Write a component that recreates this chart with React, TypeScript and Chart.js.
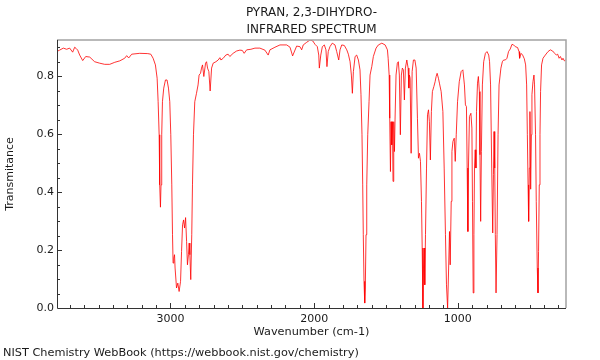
import { useEffect, useRef } from 'react';
import { Chart, registerables } from 'chart.js';

Chart.register(...registerables);

const titleLines = ['PYRAN, 2,3-DIHYDRO-', 'INFRARED SPECTRUM'];
const xAxisTitle = 'Wavenumber (cm-1)';
const yAxisTitle = 'Transmitance';
const footerText = 'NIST Chemistry WebBook (https://webbook.nist.gov/chemistry)';
const xTickValues = [1000, 2000, 3000];
const yTickValues = [0, 0.2, 0.4, 0.6, 0.8];
const xRange = [247, 3790];
const yRange = [0, 0.925];

const wavenumbers = [
  3792, 3772, 3746, 3723, 3702, 3681, 3667, 3657, 3646, 3632,
  3611, 3590, 3562, 3528, 3493, 3458, 3423, 3388, 3353, 3319,
  3305, 3291, 3270, 3214, 3158, 3137, 3121, 3105, 3093, 3086,
  3079, 3075, 3070, 3066, 3061, 3056, 3047, 3035, 3024, 3014,
  3005, 2998, 2991, 2986, 2982, 2977, 2972, 2968, 2958, 2949,
  2940, 2930, 2923, 2916, 2909, 2902, 2895, 2888, 2882, 2875,
  2870, 2865, 2859, 2852, 2847, 2840, 2831, 2819, 2808, 2801,
  2791, 2784, 2777, 2768, 2756, 2749, 2742, 2733, 2724, 2714,
  2703, 2684, 2668, 2656, 2649, 2633, 2615, 2599, 2587, 2564,
  2540, 2517, 2500, 2487, 2470, 2440, 2412, 2378, 2343, 2320,
  2308, 2273, 2238, 2191, 2168, 2150, 2122, 2099, 2087, 2076,
  2052, 2029, 2010, 1994, 1978, 1968, 1964, 1954, 1943, 1929,
  1918, 1911, 1902, 1890, 1874, 1855, 1843, 1829, 1820, 1808,
  1790, 1773, 1762, 1750, 1741, 1734, 1727, 1715, 1704, 1692,
  1681, 1674, 1667, 1662, 1658, 1653, 1648, 1644, 1639, 1634,
  1627, 1618, 1611, 1599, 1588, 1569, 1553, 1529, 1506, 1490,
  1485, 1478, 1474, 1469, 1465, 1460, 1455, 1451, 1446, 1441,
  1437, 1430, 1421, 1414, 1407, 1400, 1393, 1386, 1379, 1372,
  1365, 1355, 1346, 1341, 1337, 1332, 1325, 1318, 1309, 1299,
  1290, 1281, 1274, 1267, 1260, 1253, 1248, 1243, 1239, 1234,
  1230, 1225, 1218, 1211, 1204, 1198, 1191, 1184, 1177, 1167,
  1158, 1151, 1144, 1135, 1128, 1116, 1104, 1095, 1086, 1079,
  1071, 1064, 1058, 1053, 1046, 1041, 1034, 1025, 1018, 1011,
  1002, 990, 977, 965, 954, 947, 940, 935, 930, 926,
  919, 909, 902, 898, 893, 888, 884, 879, 874, 870,
  863, 857, 850, 846, 841, 836, 829, 820, 808, 797,
  785, 779, 772, 764, 757, 752, 748, 743, 739, 734,
  727, 720, 713, 700, 690, 681, 669, 658, 647, 635,
  623, 612, 600, 584, 574, 570, 560, 549, 537, 528,
  521, 516, 511, 507, 502, 498, 493, 488, 484, 477,
  470, 466, 459, 454, 447, 442, 438, 433, 428, 424,
  417, 407, 391, 372, 356, 340, 326, 314, 305, 295,
  286, 275, 268, 258, 250,
];

const transmittance = [
  0.885, 0.890, 0.897, 0.893, 0.897, 0.883, 0.900, 0.896, 0.890, 0.873,
  0.854, 0.868, 0.866, 0.850, 0.845, 0.841, 0.841, 0.848, 0.853, 0.862,
  0.871, 0.863, 0.876, 0.879, 0.878, 0.876, 0.862, 0.839, 0.793, 0.712,
  0.598, 0.425, 0.348, 0.425, 0.598, 0.712, 0.759, 0.787, 0.787, 0.759,
  0.712, 0.598, 0.425, 0.253, 0.155, 0.172, 0.184, 0.138, 0.069, 0.086,
  0.057, 0.092, 0.195, 0.287, 0.304, 0.276, 0.312, 0.230, 0.149, 0.184,
  0.224, 0.184, 0.098, 0.253, 0.425, 0.598, 0.712, 0.741, 0.770, 0.804,
  0.810, 0.828, 0.839, 0.799, 0.845, 0.850, 0.828, 0.816, 0.749, 0.828,
  0.845, 0.850, 0.856, 0.864, 0.856, 0.862, 0.873, 0.876, 0.868, 0.879,
  0.887, 0.890, 0.889, 0.879, 0.891, 0.893, 0.897, 0.897, 0.890, 0.873,
  0.891, 0.900, 0.908, 0.908, 0.900, 0.870, 0.904, 0.902, 0.891, 0.908,
  0.917, 0.925, 0.922, 0.910, 0.902, 0.873, 0.828, 0.873, 0.902, 0.908,
  0.891, 0.833, 0.885, 0.902, 0.914, 0.908, 0.885, 0.856, 0.891, 0.908,
  0.906, 0.891, 0.876, 0.850, 0.804, 0.741, 0.816, 0.868, 0.873, 0.856,
  0.822, 0.736, 0.598, 0.425, 0.253, 0.092, 0.017, 0.069, 0.253, 0.425,
  0.598, 0.712, 0.804, 0.833, 0.868, 0.897, 0.908, 0.914, 0.908, 0.891,
  0.862, 0.804, 0.655, 0.471, 0.643, 0.563, 0.643, 0.437, 0.643, 0.540,
  0.649, 0.804, 0.845, 0.850, 0.804, 0.598, 0.804, 0.828, 0.822, 0.718,
  0.828, 0.856, 0.828, 0.759, 0.804, 0.793, 0.534, 0.816, 0.856, 0.856,
  0.828, 0.655, 0.517, 0.534, 0.506, 0.368, 0.207, 0.000, 0.138, 0.207,
  0.080, 0.253, 0.483, 0.667, 0.684, 0.643, 0.511, 0.678, 0.747, 0.764,
  0.781, 0.799, 0.810, 0.793, 0.776, 0.747, 0.678, 0.483, 0.253, 0.080,
  0.000, 0.138, 0.264, 0.149, 0.368, 0.540, 0.575, 0.586, 0.506, 0.598,
  0.712, 0.781, 0.816, 0.822, 0.770, 0.701, 0.695, 0.483, 0.264, 0.483,
  0.661, 0.672, 0.621, 0.368, 0.052, 0.253, 0.483, 0.546, 0.483, 0.678,
  0.776, 0.799, 0.747, 0.529, 0.299, 0.540, 0.770, 0.850, 0.879, 0.885,
  0.873, 0.850, 0.770, 0.483, 0.259, 0.460, 0.609, 0.483, 0.253, 0.052,
  0.253, 0.598, 0.770, 0.828, 0.850, 0.856, 0.856, 0.862, 0.885, 0.894,
  0.910, 0.908, 0.902, 0.899, 0.885, 0.862, 0.879, 0.873, 0.860, 0.839,
  0.770, 0.598, 0.425, 0.299, 0.483, 0.678, 0.410, 0.598, 0.736, 0.781,
  0.804, 0.770, 0.598, 0.368, 0.138, 0.052, 0.195, 0.425, 0.598, 0.747,
  0.839, 0.862, 0.873, 0.885, 0.891, 0.887, 0.879, 0.873, 0.876, 0.862,
  0.868, 0.856, 0.862, 0.853, 0.856,
];

const FONT = "'DejaVu Sans', 'Liberation Sans', sans-serif";
const TEXT_COLOR = '#1a1a1a';

const framePlugin = {
  id: 'frameTicks',
  afterDraw(chart: any) {
    const { ctx, chartArea: a, scales } = chart;
    const x = scales.x;
    const y = scales.y;
    ctx.save();
    // top & right frame (gray)
    ctx.lineWidth = 1.5;
    ctx.strokeStyle = '#a3a3a3';
    ctx.beginPath();
    ctx.moveTo(a.left, a.top);
    ctx.lineTo(a.right, a.top);
    ctx.lineTo(a.right, a.bottom);
    ctx.stroke();
    // left & bottom axes (dark)
    ctx.lineWidth = 1;
    ctx.strokeStyle = '#333333';
    ctx.beginPath();
    ctx.moveTo(a.left + 0.5, a.top);
    ctx.lineTo(a.left + 0.5, a.bottom + 0.5);
    ctx.lineTo(a.right, a.bottom + 0.5);
    ctx.stroke();
    // inward tick marks
    ctx.beginPath();
    for (let v = 300; v <= 3700; v += 100) {
      const px = Math.round(x.getPixelForValue(v)) + 0.5;
      const len = v % 1000 === 0 ? 5 : 3;
      ctx.moveTo(px, a.bottom);
      ctx.lineTo(px, a.bottom - len);
    }
    for (let i = 1; i <= 18; i++) {
      const v = i * 0.05;
      const py = Math.round(y.getPixelForValue(v)) + 0.5;
      const len = i % 4 === 0 ? 5 : 3;
      ctx.moveTo(a.left, py);
      ctx.lineTo(a.left + len, py);
    }
    ctx.stroke();
    ctx.restore();
  },
};

export default function App() {
  const canvasRef = useRef<HTMLCanvasElement | null>(null);

  useEffect(() => {
    if (!canvasRef.current) return;
    const points = wavenumbers.map((w, i) => ({ x: w, y: transmittance[i] }));
    const chart = new Chart(canvasRef.current, {
      type: 'line',
      data: {
        datasets: [
          {
            data: points,
            borderColor: 'rgba(255, 0, 0, 0.8)',
            borderWidth: 1,
            pointRadius: 0,
            tension: 0,
            fill: false,
          },
        ],
      },
      plugins: [framePlugin],
      options: {
        animation: false,
        responsive: false,
        devicePixelRatio: 1,
        layout: { padding: { left: 0, right: 34, top: 0, bottom: 0 } },
        plugins: {
          legend: { display: false },
          tooltip: { enabled: false },
          title: {
            display: true,
            text: titleLines,
            fullSize: false,
            color: TEXT_COLOR,
            font: { family: FONT, size: 12, weight: 'normal', lineHeight: '17px' },
            padding: { top: 4.5, bottom: 1.5 },
          },
        },
        scales: {
          x: {
            type: 'linear',
            reverse: true,
            min: xRange[0],
            max: xRange[1],
            grid: { display: false, drawTicks: false },
            border: { display: false },
            afterBuildTicks: (scale: any) => {
              scale.ticks = xTickValues.map((v) => ({ value: v }));
            },
            afterFit: (scale: any) => {
              scale.height = 52;
            },
            ticks: {
              color: TEXT_COLOR,
              padding: 5,
              maxRotation: 0,
              font: { family: FONT, size: 11 },
              callback: (v: any) => String(v),
            },
            title: {
              display: true,
              text: xAxisTitle,
              color: TEXT_COLOR,
              font: { family: FONT, size: 11.3, lineHeight: 1.2 },
              padding: { top: 0, bottom: 20.8 },
            },
          },
          y: {
            type: 'linear',
            min: yRange[0],
            max: yRange[1],
            grid: { display: false, drawTicks: false },
            border: { display: false },
            afterBuildTicks: (scale: any) => {
              scale.ticks = yTickValues.map((v) => ({ value: v }));
            },
            afterFit: (scale: any) => {
              scale.width = 57;
            },
            ticks: {
              color: TEXT_COLOR,
              padding: 3,
              font: { family: FONT, size: 11 },
              callback: (v: any) => Number(v).toFixed(1),
            },
            title: {
              display: true,
              text: yAxisTitle,
              color: TEXT_COLOR,
              font: { family: FONT, size: 11, lineHeight: 1.2 },
              padding: { top: 3.4, bottom: 0 },
            },
          },
        },
      },
    } as any);
    return () => chart.destroy();
  }, []);

  return (
    <div style={{ position: 'fixed', left: 0, top: 0, width: 600, height: 360, background: '#ffffff' }}>
      <canvas ref={canvasRef} width={600} height={360} style={{ width: 600, height: 360, display: 'block' }} />
      <div
        style={{
          position: 'absolute',
          left: 3,
          top: 346,
          height: 14,
          lineHeight: '14px',
          fontFamily: FONT,
          fontSize: 11.3,
          color: TEXT_COLOR,
          whiteSpace: 'nowrap',
        }}
      >
        {footerText}
      </div>
    </div>
  );
}
